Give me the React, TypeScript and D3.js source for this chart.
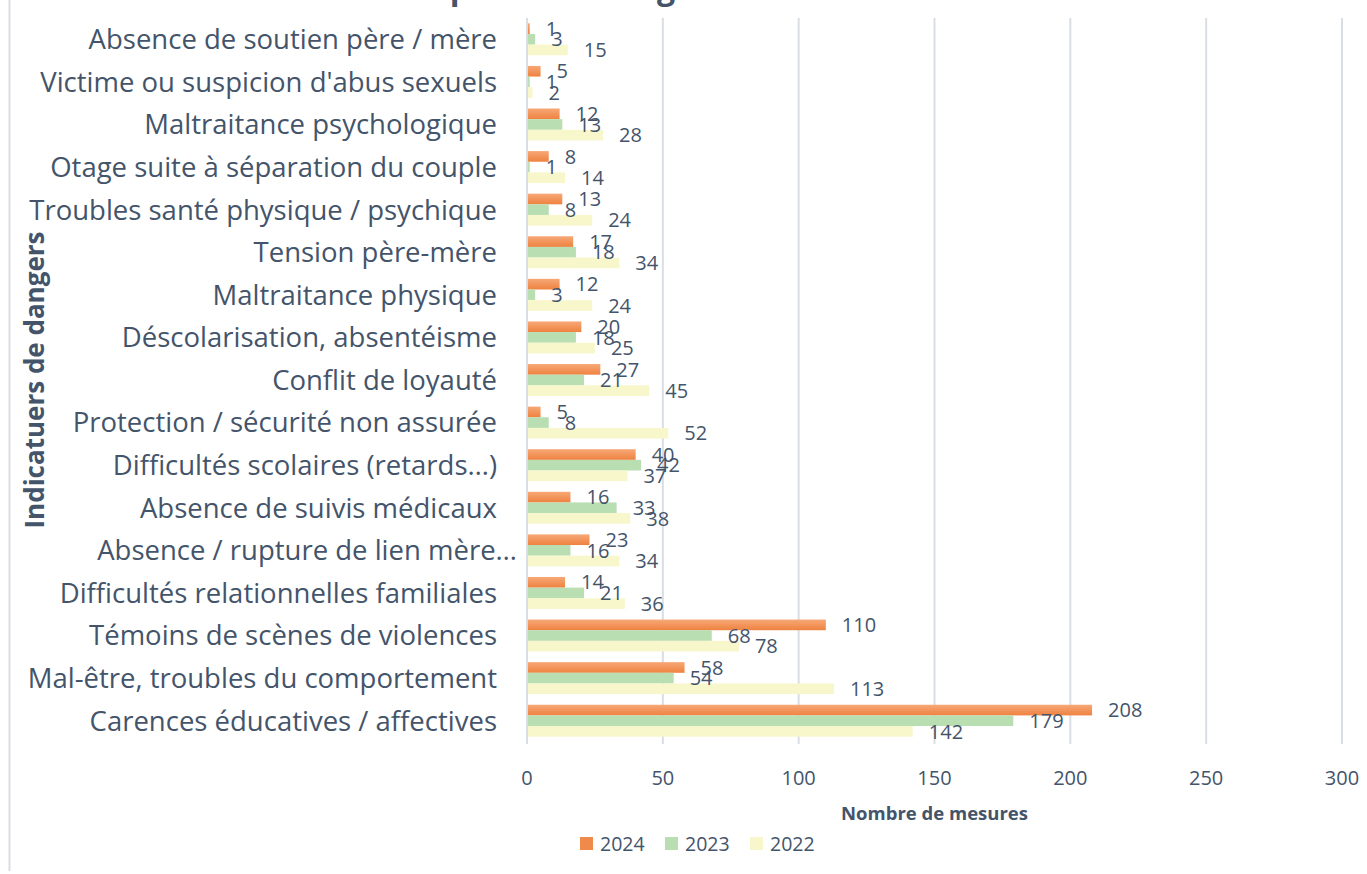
import React from 'react'
import * as d3 from 'd3'

// catégories, de haut en bas
const categories = [
  'Absence de soutien père / mère',
  "Victime ou suspicion d'abus sexuels",
  'Maltraitance psychologique',
  'Otage suite à séparation du couple',
  'Troubles santé physique / psychique',
  'Tension père-mère',
  'Maltraitance physique',
  'Déscolarisation, absentéisme',
  'Conflit de loyauté',
  'Protection / sécurité non assurée',
  'Difficultés scolaires (retards…)',
  'Absence de suivis médicaux',
  'Absence / rupture de lien mère…',
  'Difficultés relationnelles familiales',
  'Témoins de scènes de violences',
  'Mal-être, troubles du comportement',
  'Carences éducatives / affectives',
]

const values2024 = [1, 5, 12, 8, 13, 17, 12, 20, 27, 5, 40, 16, 23, 14, 110, 58, 208]
const values2023 = [3, 1, 13, 1, 8, 18, 3, 18, 21, 8, 42, 33, 16, 21, 68, 54, 179]
const values2022 = [15, 2, 28, 14, 24, 34, 24, 25, 45, 52, 37, 38, 34, 36, 78, 113, 142]

const seriesNames = ['2024', '2023', '2022']
const xTicks = [0, 50, 100, 150, 200, 250, 300]

const title = 'Motifs de prise en charge'
const xTitle = 'Nombre de mesures'
const yTitle = 'Indicatuers de dangers'

const W = 1367
const H = 874
const FONT = '"Open Sans", "Noto Sans", sans-serif'
const TEXT = '#44546A'
const GRID = '#D9DEE5'

const fills: Record<string, string> = {
  '2024': 'url(#gradOrange)',
  '2023': '#B9DEB1',
  '2022': '#F8F7CB',
}
const swatch: Record<string, string> = {
  '2024': '#F08A4B',
  '2023': '#B9DEB1',
  '2022': '#F8F7CB',
}

export default function App() {
  const x = d3.scaleLinear().domain([0, 300]).range([527, 1342])
  const y = d3
    .scaleBand<string>()
    .domain(categories)
    .range([18, 742])
    .paddingInner(0.25)
    .paddingOuter(0.125)
  const sub = d3.scaleBand<string>().domain(seriesNames).range([0, y.bandwidth()])

  const series = [
    { name: '2024', values: values2024 },
    { name: '2023', values: values2023 },
    { name: '2022', values: values2022 },
  ]

  return (
    <svg
      width={W}
      height={H}
      style={{ position: 'absolute', left: 0, top: 0, background: '#fff', display: 'block' }}
      fontFamily={FONT}
    >
      <defs>
        <linearGradient id="gradOrange" x1="0" y1="0" x2="0" y2="1">
          <stop offset="0%" stopColor="#F7A877" />
          <stop offset="100%" stopColor="#EE8240" />
        </linearGradient>
      </defs>

      {/* bordure gauche */}
      <line x1={9.5} x2={9.5} y1={0} y2={871} stroke="#D9DEE3" strokeWidth={2} />

      {/* titre (coupé en haut) */}
      <text x={292} y={-1} fontSize={32} fontWeight="bold" fill={TEXT}>
        {title}
      </text>

      {/* grille */}
      {xTicks.map(t => (
        <line
          key={t}
          x1={x(t)}
          x2={x(t)}
          y1={18}
          y2={744}
          stroke={GRID}
          strokeWidth={2}
        />
      ))}

      {/* barres */}
      {series.map(s =>
        s.values.map((v, i) => (
          <rect
            key={s.name + i}
            x={x(0) + 1}
            y={(y(categories[i]) ?? 0) + (sub(s.name) ?? 0)}
            width={Math.max(0, x(v) - x(0) - 1)}
            height={sub.bandwidth()}
            fill={fills[s.name]}
          />
        ))
      )}

      {/* étiquettes de données */}
      {series.map(s =>
        s.values.map((v, i) => (
          <text
            key={'l' + s.name + i}
            x={x(v) + 16}
            y={(y(categories[i]) ?? 0) + (sub(s.name) ?? 0) + sub.bandwidth() / 2}
            dy="0.36em"
            fontSize={20}
            fill={TEXT}
          >
            {v}
          </text>
        ))
      )}

      {/* libellés des catégories */}
      {categories.map(c => (
        <text
          key={c}
          x={c.endsWith('…') && c.startsWith('Absence') ? 517 : 497}
          y={(y(c) ?? 0) + y.bandwidth() / 2}
          dy="0.36em"
          textAnchor="end"
          fontSize={27.5}
          fill={TEXT}
        >
          {c}
        </text>
      ))}

      {/* axe X */}
      {xTicks.map(t => (
        <text
          key={'t' + t}
          x={x(t)}
          y={785}
          textAnchor="middle"
          fontSize={20}
          fill={TEXT}
        >
          {t}
        </text>
      ))}
      <text
        x={(x(0) + x(300)) / 2}
        y={820}
        textAnchor="middle"
        fontSize={18.5}
        fontWeight="bold"
        fill={TEXT}
      >
        {xTitle}
      </text>

      {/* titre axe Y */}
      <text
        transform={`translate(44, 380) rotate(-90)`}
        textAnchor="middle"
        fontSize={26}
        fontWeight="bold"
        fill={TEXT}
      >
        {yTitle}
      </text>

      {/* légende */}
      {seriesNames.map((n, i) => {
        const lx = 580 + i * 85
        return (
          <g key={n} transform={`translate(${lx}, 837)`}>
            <rect width={13} height={13} fill={swatch[n]} />
            <text x={20} y={14} fontSize={19.5} fill={TEXT}>
              {n}
            </text>
          </g>
        )
      })}
    </svg>
  )
}
